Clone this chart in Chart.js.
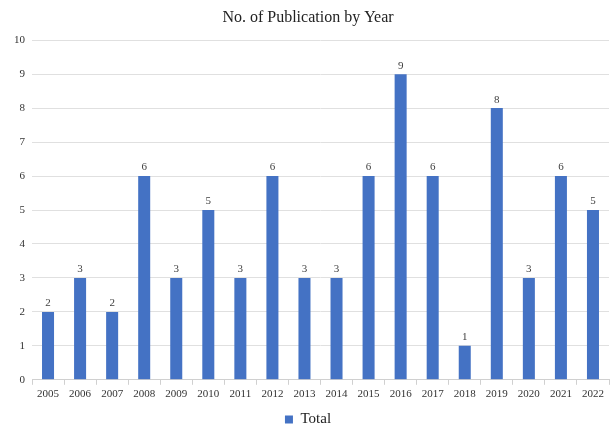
<!DOCTYPE html>
<html>
<head>
<meta charset="utf-8">
<script src="https://cdn.jsdelivr.net/npm/chart.js@4"></script>
<style>
  html, body { margin: 0; padding: 0; background: #fff; }
  #wrap { width: 613px; height: 429px; }
</style>
</head>
<body>
<div id="wrap"><canvas id="myChart" width="613" height="429"></canvas></div>
<script>
const years = ["2005", "2006", "2007", "2008", "2009", "2010", "2011", "2012", "2013",
  "2014", "2015", "2016", "2017", "2018", "2019", "2020", "2021", "2022"];
const totals = [2, 3, 2, 6, 3, 5, 3, 6, 3, 3, 6, 9, 6, 1, 8, 3, 6, 5];
const yTicks = [0, 1, 2, 3, 4, 5, 6, 7, 8, 9, 10];

const serif = "'Liberation Serif', 'Times New Roman', serif";

// value labels above each bar
const barLabels = {
  id: "barLabels",
  afterDatasetsDraw(chart) {
    const ctx = chart.ctx;
    ctx.save();
    ctx.font = "11px " + serif;
    ctx.fillStyle = "#404040";
    ctx.textAlign = "center";
    ctx.textBaseline = "bottom";
    chart.getDatasetMeta(0).data.forEach((bar, i) => {
      ctx.fillText(totals[i], bar.x, bar.y - 3);
    });
    ctx.restore();
  },
};

const ctx = document.getElementById("myChart");
const myChart = new Chart(ctx, {
  type: "bar",
  data: {
    labels: years,
    datasets: [
      {
        label: "Total",
        data: totals,
        backgroundColor: "#4472C4",
        barPercentage: 0.75,
        categoryPercentage: 0.5,
      },
    ],
  },
  options: {
    responsive: false,
    animation: false,
    layout: { padding: { left: 7, right: 4, top: 4, bottom: -8 } },
    plugins: {
      title: {
        display: true,
        text: "No. of Publication by Year",
        font: { family: serif, size: 16, weight: "normal" },
        color: "#222",
        padding: { top: 4, bottom: 13 },
      },
      legend: {
        position: "bottom",
        labels: {
          font: { family: serif, size: 15 },
          color: "#222",
          boxWidth: 8,
          boxHeight: 8,
          padding: 8,
        },
      },
      tooltip: { enabled: false },
    },
    scales: {
      y: {
        min: 0,
        max: 10,
        afterBuildTicks(axis) {
          axis.ticks = yTicks.map((v) => ({ value: v }));
        },
        ticks: {
          font: { family: serif, size: 11 },
          color: "#333",
          padding: 7,
        },
        grid: { color: "#e0e0e0", drawTicks: false },
        border: { display: false },
      },
      x: {
        ticks: {
          font: { family: serif, size: 11 },
          color: "#333",
          padding: 3,
        },
        grid: {
          display: true,
          drawOnChartArea: false,
          offset: true,
          tickLength: 5,
          color: "#d0d0d0",
        },
        border: { display: true, color: "#d0d0d0" },
      },
    },
  },
  plugins: [barLabels],
});
</script>
</body>
</html>
